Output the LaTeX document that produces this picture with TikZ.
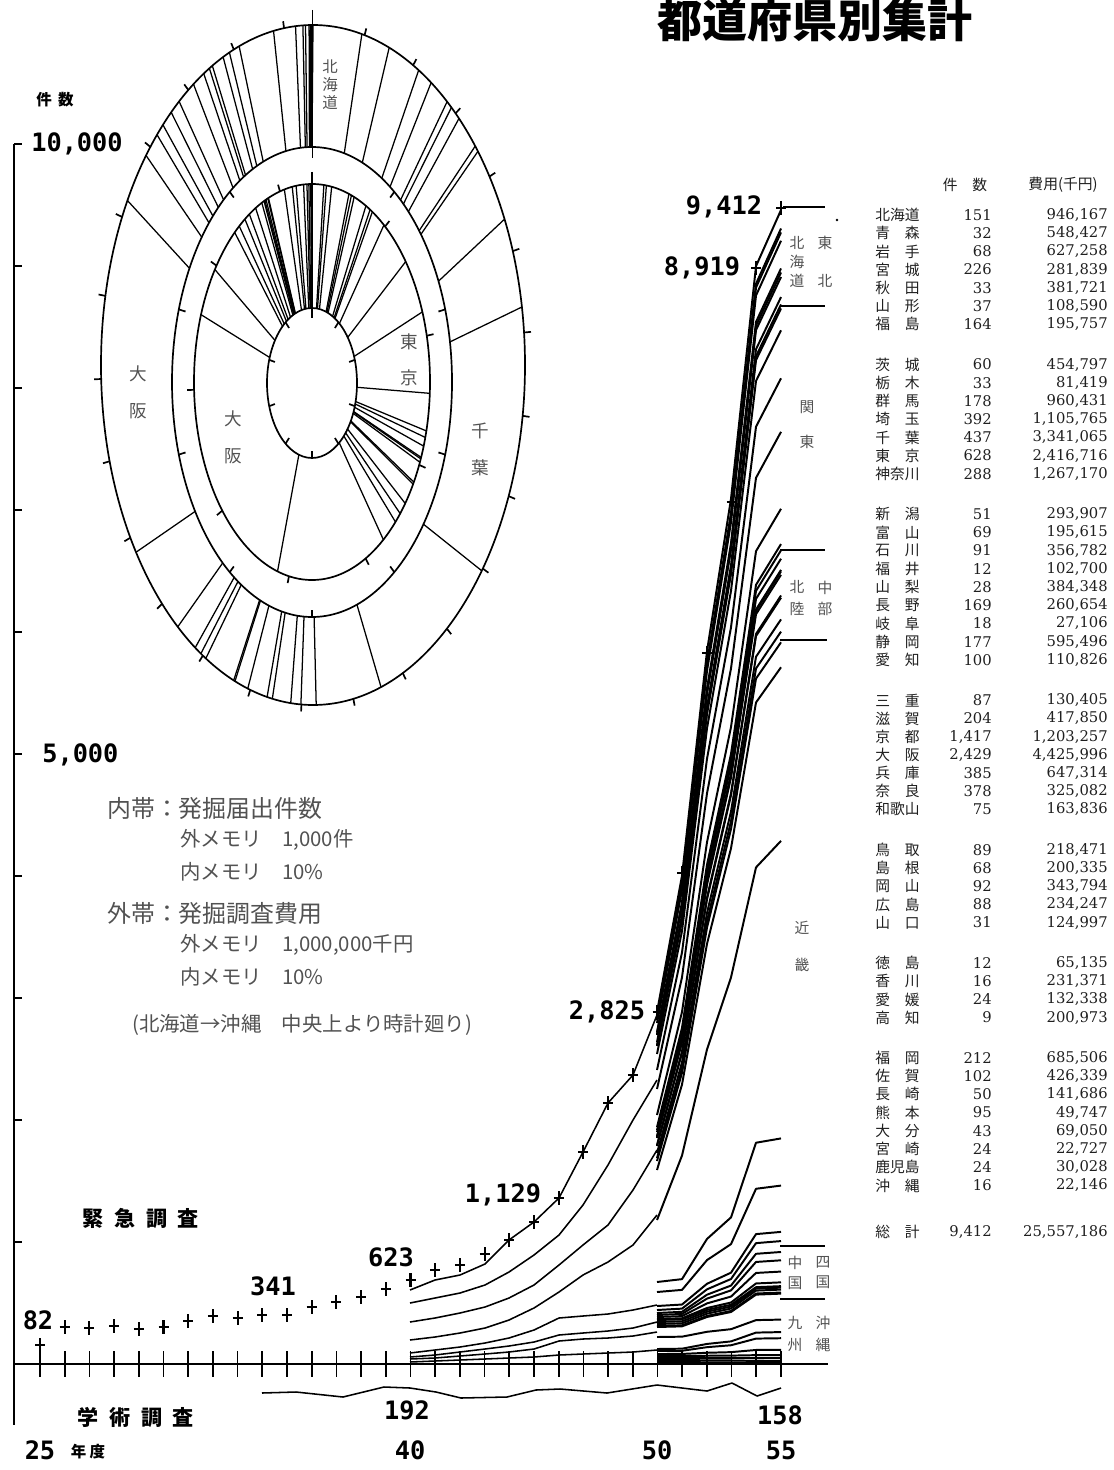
\documentclass[tikz,border=0pt]{standalone}
\usepackage{fontspec}
\setmainfont{DejaVu Serif}
\newfontfamily\jpfont{Noto Sans CJK JP}
\newfontfamily\plotfont{DejaVu Sans Mono}
\newfontfamily\numfont{DejaVu Serif}
\definecolor{pencil}{gray}{0.32}
\definecolor{ink}{gray}{0.12}
\tikzset{
  ring/.style={line width=1.2pt},
  spoke/.style={line width=0.9pt},
  trend/.style={line width=1.1pt, line join=round},
  bundle/.style={line width=1.4pt, line join=round},
  crossmark/.style={line width=1.5pt},
  plotnum/.style={font=\plotfont\bfseries\fontsize{18}{20}\selectfont, inner sep=0pt},
  axislabel/.style={font=\jpfont\bfseries\fontsize{15}{18}\selectfont, inner sep=0pt},
  bandlabel/.style={font=\jpfont\fontsize{12.5}{#1}\selectfont, text=pencil, align=center, inner sep=0pt},
  arealabel/.style={font=\jpfont\fontsize{10.5}{#1}\selectfont, text=pencil, align=center, inner sep=0pt},
  legendhead/.style={font=\jpfont\fontsize{17}{20}\selectfont, text=pencil, anchor=west, inner sep=0pt},
  legendsub/.style={font=\jpfont\fontsize{14.5}{18}\selectfont, text=pencil, anchor=west, inner sep=0pt},
  tabname/.style={font=\jpfont\fontsize{10.5}{12}\selectfont, text=ink, anchor=west, inner sep=0pt},
  tabnum/.style={font=\numfont\fontsize{10.5}{12}\selectfont, text=ink, anchor=east, inner sep=0pt}
}
\begin{document}
\begin{tikzpicture}[x=0.025cm,y=-0.025cm]
\useasboundingbox (0,0) rectangle (1113,1470);

\node[font=\jpfont\bfseries\fontsize{32}{36}\selectfont, inner sep=0pt] (title) at (815,20) {都道府県別集計};

% rings
\draw[ring] (313,365) ellipse [x radius=212, y radius=340];
\draw[ring] (312,382) ellipse [x radius=140, y radius=235];
\draw[ring] (312,382) ellipse [x radius=118, y radius=198];
\draw[ring] (312,383) ellipse [x radius=45, y radius=75];
\draw[ring] (312.5,10) -- (312.5,158);
\draw[ring] (312,172) -- (312,318);

% outer band: cost (10,000 thousand yen)
\gdef\acc{0}
\foreach \v in {94.6167,54.8427,62.7258,28.1839,38.1721,10.859,19.5757,
  45.4797,8.1419,96.0431,110.5765,334.1065,241.6716,126.717,
  29.3907,19.5615,35.6782,10.27,38.4348,26.0654,2.7106,59.5496,11.0826,
  13.0405,41.785,120.3257,442.5996,64.7314,32.5082,16.3836,
  21.8471,20.0335,34.3794,23.4247,12.4997,
  6.5135,23.1371,13.2338,20.0973,
  68.5506,42.6339,14.1686,4.9747,6.905,2.2727,3.0028,2.2146}{
  \pgfmathsetmacro\nacc{\acc+\v}
  \global\let\acc\nacc
  \pgfmathsetmacro\ang{\acc/2555.7186*360}
  \draw[spoke] ({312+140*sin(\ang)},{382-235*cos(\ang)}) -- ({313+212*sin(\ang)},{365-340*cos(\ang)});
}

% inner band: counts
\gdef\acc{0}
\foreach \v in {151,32,68,226,33,37,164,60,33,178,392,437,628,288,
  51,69,91,12,28,169,18,177,100,87,204,1417,2429,385,378,75,
  89,68,92,88,31,12,16,24,9,212,102,50,95,43,24,24,16}{
  \pgfmathsetmacro\nacc{\acc+\v}
  \global\let\acc\nacc
  \pgfmathsetmacro\ang{\acc/9412*360}
  \draw[spoke] ({312+45*sin(\ang)},{383-75*cos(\ang)}) -- ({312+118*sin(\ang)},{382-198*cos(\ang)});
}

% scale marks
\foreach \k in {1,...,25}{
  \pgfmathsetmacro\ang{\k*14.0862}
  \draw[ring] ({313+212*sin(\ang)},{365-340*cos(\ang)}) -- ({313+219*sin(\ang)},{365-347*cos(\ang)});
}
\foreach \k in {1,...,9}{
  \pgfmathsetmacro\ang{\k*36}
  \draw[ring] ({312+140*sin(\ang)},{382-235*cos(\ang)}) -- ({312+133*sin(\ang)},{382-228*cos(\ang)});
  \draw[ring] ({312+45*sin(\ang)},{383-75*cos(\ang)}) -- ({312+39*sin(\ang)},{383-68*cos(\ang)});
  \pgfmathsetmacro\ang{\k*38.249}
  \draw[ring] ({312+118*sin(\ang)},{382-198*cos(\ang)}) -- ({312+125*sin(\ang)},{382-205*cos(\ang)});
}

\node[bandlabel=12.8, font=\jpfont\fontsize{11}{12.8}\selectfont] (hokkaido) at (330,85) {北\\海\\道};
\node[bandlabel=25.6] (tokyo) at (409,360) {東\\京};
\node[bandlabel=26.3] (chiba) at (480,449) {千\\葉};
\node[bandlabel=26.3] (osakaout) at (138,392) {大\\阪};
\node[bandlabel=26.3] (osakain) at (233,437) {大\\阪};

% legend
\node[legendhead] (inner) at (107,808) {内帯：発掘届出件数};
\node[legendsub] (innerouter) at (180,840) {外メモリ　1,000件};
\node[legendsub] (innerinner) at (180,872) {内メモリ　10\%};
\node[legendhead] (outer) at (107,913) {外帯：発掘調査費用};
\node[legendsub] (outerouter) at (180,945) {外メモリ　1,000,000千円};
\node[legendsub] (outerinner) at (180,977) {内メモリ　10\%};
\node[legendsub] (order) at (132,1025) {(北海道→沖縄　中央上より時計廻り)};

% axes
\draw[ring] (14,144) -- (14,1425);
\foreach \k in {1,...,10}
  \draw[ring] (14,{1364-122*\k}) -- (22,{1364-122*\k});
\draw[ring] (14,1364) -- (828,1364);
\foreach \yr in {25,...,55}
  \draw[ring] ({40+24.7*(\yr-25)},1351) -- ({40+24.7*(\yr-25)},1377);

\node[axislabel, font=\jpfont\bfseries\fontsize{11}{13}\selectfont] (ylab) at (55,100) {件\hspace{0.4em}数};
\node[plotnum, anchor=west] (tenk) at (31,144) {10,000};
\node[plotnum, anchor=west] (fivek) at (42,755) {5,000};
\node[axislabel] (kinkyu) at (141,1218) {緊\hspace{0.5em}急\hspace{0.5em}調\hspace{0.5em}査};
\node[axislabel] (gakujutsu) at (136,1417) {学\hspace{0.5em}術\hspace{0.5em}調\hspace{0.5em}査};
\node[plotnum] (y25) at (40,1450) {25};
\node[axislabel, font=\jpfont\bfseries\fontsize{11}{13}\selectfont] (nendo) at (88,1452) {年\hspace{0.2em}度};
\node[plotnum] (y40) at (410,1450) {40};
\node[plotnum] (y50) at (657,1450) {50};
\node[plotnum] (y55) at (781,1450) {55};

% emergency totals
\foreach \yr/\yy in {25/1345,26/1327,27/1328,28/1326,29/1329,30/1327,31/1321,32/1316,
  33/1318,34/1315,35/1315,36/1307,37/1302,38/1297,39/1289,40/1280,41/1270,42/1265,
  43/1254,44/1240,45/1222,46/1198,47/1152,48/1103,49/1075,50/1012,51/873,52/653,
  53/502,54/268,55/208}
  \draw[crossmark] ({40+24.7*(\yr-25)},\yy) +(-5,0) -- +(5,0) +(0,-7) -- +(0,7);

\node[plotnum] (v82) at (38,1320) {82};
\node[plotnum] (v341) at (273,1286) {341};
\node[plotnum] (v623) at (391,1257) {623};
\node[plotnum] (v1129) at (503,1195) {1,129};
\node[plotnum] (v2825) at (607,1012) {2,825};
\node[plotnum] (v8919) at (702,268) {8,919};
\node[plotnum] (v9412) at (724,207) {9,412};

% years 40-50
\draw[trend] (410,1290) -- (435,1280) -- (460,1275) -- (485,1264) -- (509,1240) -- (534,1222) -- (559,1198) -- (583,1152) -- (608,1103) -- (633,1075) -- (657,1015);
\draw[trend] (410,1303) -- (435,1298) -- (460,1293) -- (485,1285) -- (509,1272) -- (534,1255) -- (559,1235) -- (583,1205) -- (608,1165) -- (633,1120) -- (657,1080);
\draw[trend] (410,1322) -- (435,1318) -- (460,1313) -- (485,1307) -- (509,1298) -- (534,1285) -- (559,1265) -- (583,1245) -- (608,1225) -- (633,1190) -- (657,1150);
\draw[trend] (410,1340) -- (435,1337) -- (460,1333) -- (485,1328) -- (509,1320) -- (534,1308) -- (559,1292) -- (583,1275) -- (608,1262) -- (633,1245) -- (657,1215);
\draw[trend] (410,1353) -- (435,1350) -- (460,1347) -- (485,1343) -- (509,1338) -- (534,1330) -- (559,1318) -- (583,1316) -- (608,1314) -- (633,1310) -- (657,1305);
\draw[trend] (410,1357) -- (435,1355) -- (460,1352) -- (485,1349) -- (509,1346) -- (534,1342) -- (559,1335) -- (583,1333) -- (608,1331) -- (633,1328) -- (657,1322);
\draw[trend] (410,1359) -- (435,1358) -- (460,1356) -- (485,1354) -- (509,1352) -- (534,1349) -- (559,1341) -- (583,1339) -- (608,1338) -- (633,1336) -- (657,1332);
\draw[trend] (410,1362) -- (435,1361) -- (460,1360) -- (485,1359) -- (509,1358) -- (534,1357) -- (559,1355) -- (583,1354) -- (608,1353) -- (633,1352) -- (657,1350);

% years 50-55, Hokkaido to Kyoto
\foreach \c/\ys in {0/1012,151/1018,183/1020,251/1023,477/1032,510/1034,547/1035,
  711/1042,771/1045,804/1046,982/1054,1374/1070,1811/1089,2439/1115,2727/1127,
  2778/1130,2847/1132,2938/1136,2950/1137,2978/1138,3147/1145,3165/1146,3342/1153,
  3442/1158,3529/1161,3733/1170,5150/1220}{
  \pgfmathsetmacro\ye{210+0.1225*\c}
  \draw[bundle] (657,\ys) -- (682,{\ys+(\ye-\ys)*0.17}) -- (707,{\ys+(\ye-\ys)*0.45}) -- (731,{\ys+(\ye-\ys)*0.64}) -- (756,{\ys+(\ye-\ys)*0.93}) -- (781,\ye);
}
% years 50-55, Osaka to Okinawa
\foreach \c/\ys in {7579/1282,7964/1292,8342/1306,8417/1310,8506/1313,8574/1315,
  8666/1317,8754/1319,8785/1320,8797/1322,8813/1324,8837/1326,8846/1327,9058/1337,
  9160/1349,9210/1351,9305/1354,9348/1356,9372/1358,9396/1360,9412/1362}{
  \pgfmathsetmacro\ye{210+0.1225*\c}
  \draw[bundle] (657,\ys) -- (682,{\ys+(\ye-\ys)*0.02}) -- (707,{\ys+(\ye-\ys)*0.3}) -- (731,{\ys+(\ye-\ys)*0.45}) -- (756,{\ys+(\ye-\ys)*0.97}) -- (781,\ye);
}

% academic surveys
\draw[trend] (262,1393) -- (296,1392) -- (343,1397) -- (384,1387) -- (410,1388) -- (436,1392) -- (461,1398) -- (507,1397) -- (536,1390) -- (560,1389) -- (607,1393) -- (657,1385) -- (707,1391) -- (732,1383) -- (757,1396) -- (781,1388);
\node[plotnum] (v192) at (407,1410) {192};
\node[plotnum] (v158) at (780,1415) {158};

% regions
\draw[line width=0.8pt] (783,207) -- (825,207);
\fill (837,220) circle [radius=1.3];
\draw[line width=0.8pt] (780,306) -- (825,306);
\draw[line width=0.8pt] (780,550) -- (825,550);
\draw[line width=0.8pt] (780,640) -- (827,640);
\draw[line width=0.8pt] (780,1246) -- (825,1246);
\draw[line width=0.8pt] (780,1299) -- (825,1299);
\node[arealabel=13.5] (rhok) at (797,262) {北\\海\\道};
\node[arealabel=27] (rtoh) at (825,262) {東\\北};
\node[arealabel=24.8] (rkan) at (807,425) {関\\東};
\node[arealabel=15] (rhoku) at (797,598) {北\\陸};
\node[arealabel=15] (rchub) at (825,598) {中\\部};
\node[arealabel=26.3] (rkin) at (802,946) {近\\畿};
\node[arealabel=14.2] (rchug) at (795,1273) {中\\国};
\node[arealabel=14.2] (rshik) at (823,1273) {四\\国};
\node[arealabel=15.6] (rkyu) at (795,1334) {九\\州};
\node[arealabel=15.6] (roki) at (823,1334) {沖\\縄};

% table
\node[tabname, anchor=center] (hcount) at (965,185) {件　数};
\node[tabname, anchor=center] (hcost) at (1063,185) {費用(千円)};
\foreach \nm/\ct/\cs/\g [count=\i from 0] in {北海道/151/{946,167}/0, 青　森/32/{548,427}/0,
  岩　手/68/{627,258}/0, 宮　城/226/{281,839}/0, 秋　田/33/{381,721}/0, 山　形/37/{108,590}/0,
  福　島/164/{195,757}/0,
  茨　城/60/{454,797}/1, 栃　木/33/{81,419}/1, 群　馬/178/{960,431}/1, 埼　玉/392/{1,105,765}/1,
  千　葉/437/{3,341,065}/1, 東　京/628/{2,416,716}/1, 神奈川/288/{1,267,170}/1,
  新　潟/51/{293,907}/2, 富　山/69/{195,615}/2, 石　川/91/{356,782}/2, 福　井/12/{102,700}/2,
  山　梨/28/{384,348}/2, 長　野/169/{260,654}/2, 岐　阜/18/{27,106}/2, 静　岡/177/{595,496}/2,
  愛　知/100/{110,826}/2,
  三　重/87/{130,405}/3, 滋　賀/204/{417,850}/3, 京　都/{1,417}/{1,203,257}/3,
  大　阪/{2,429}/{4,425,996}/3, 兵　庫/385/{647,314}/3, 奈　良/378/{325,082}/3, 和歌山/75/{163,836}/3,
  鳥　取/89/{218,471}/4, 島　根/68/{200,335}/4, 岡　山/92/{343,794}/4, 広　島/88/{234,247}/4,
  山　口/31/{124,997}/4,
  徳　島/12/{65,135}/5, 香　川/16/{231,371}/5, 愛　媛/24/{132,338}/5, 高　知/9/{200,973}/5,
  福　岡/212/{685,506}/6, 佐　賀/102/{426,339}/6, 長　崎/50/{141,686}/6, 熊　本/95/{49,747}/6,
  大　分/43/{69,050}/6, 宮　崎/24/{22,727}/6, 鹿児島/24/{30,028}/6, 沖　縄/16/{22,146}/6}{
  \pgfmathsetmacro\ry{215+18.2*\i+22.2*\g}
  \node[tabname] (name\i) at (875,\ry) {\nm};
  \node[tabnum] (count\i) at (992,\ry) {\ct};
  \node[tabnum] (cost\i) at (1108,\ry) {\cs};
}
\node[tabname] (totname) at (875,1232) {総　計};
\node[tabnum] (totcount) at (992,1232) {9,412};
\node[tabnum] (totcost) at (1108,1232) {25,557,186};
\end{tikzpicture}
\end{document}
